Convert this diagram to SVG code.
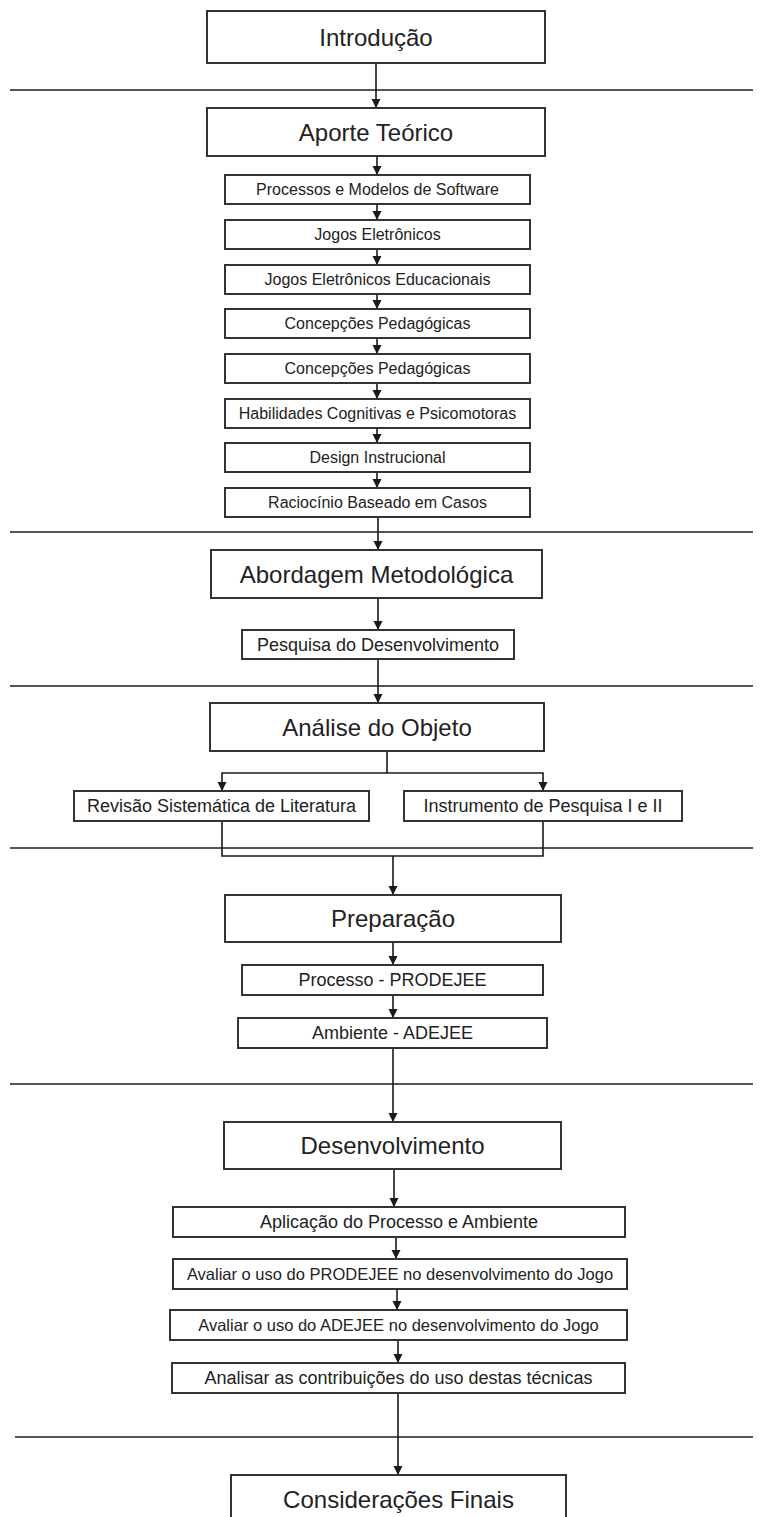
<svg xmlns="http://www.w3.org/2000/svg" width="761" height="1517" viewBox="0 0 761 1517">
  <style>
    .box { fill: #ffffff; stroke: #333333; stroke-width: 2; }
    .sep { stroke: #555555; stroke-width: 2; fill: none; }
    .wire { stroke: #1a1a1a; stroke-width: 1.6; fill: none; }
    .arrow { stroke: #1a1a1a; stroke-width: 1.6; fill: none; marker-end: url(#head); }
    text { font-family: "Liberation Sans", Arial, sans-serif; fill: #222222; text-anchor: middle; dominant-baseline: central; }
    .t24 { font-size: 24px; }
    .t18 { font-size: 18px; }
    .t16 { font-size: 16px; }
    .t165 { font-size: 16.5px; }
  </style>
  <defs>
    <marker id="head" viewBox="0 0 10 10" refX="10" refY="5" markerWidth="9" markerHeight="10" markerUnits="userSpaceOnUse" orient="auto">
      <path d="M0,0 L10,5 L0,10 Z" fill="#1a1a1a"/>
    </marker>
  </defs>

  <rect width="761" height="1517" fill="#ffffff"/>

  <!-- section separators -->
  <g id="separators">
    <line class="sep" x1="10" y1="90" x2="753" y2="90"/>
    <line class="sep" x1="10" y1="532" x2="753" y2="532"/>
    <line class="sep" x1="10" y1="686" x2="753" y2="686"/>
    <line class="sep" x1="10" y1="848" x2="753" y2="848"/>
    <line class="sep" x1="10" y1="1084" x2="753" y2="1084"/>
    <line class="sep" x1="15" y1="1437" x2="753" y2="1437"/>
  </g>

  <!-- connectors -->
  <g id="connectors">
    <line class="arrow" x1="376" y1="63" x2="376" y2="108"/>
    <line class="arrow" x1="377" y1="156" x2="377" y2="175"/>
    <line class="arrow" x1="377" y1="204" x2="377" y2="220"/>
    <line class="arrow" x1="377" y1="249" x2="377" y2="265"/>
    <line class="arrow" x1="377" y1="294" x2="377" y2="309"/>
    <line class="arrow" x1="377" y1="338" x2="377" y2="354"/>
    <line class="arrow" x1="377" y1="383" x2="377" y2="399"/>
    <line class="arrow" x1="377" y1="428" x2="377" y2="443"/>
    <line class="arrow" x1="377" y1="472" x2="377" y2="488"/>
    <line class="arrow" x1="378" y1="517" x2="378" y2="550"/>
    <line class="arrow" x1="378" y1="598" x2="378" y2="630"/>
    <line class="arrow" x1="378" y1="659" x2="378" y2="703"/>
    <!-- split below Análise do Objeto -->
    <polyline class="wire" points="387,751 387,773"/>
    <polyline class="arrow" points="387,773 222,773 222,791"/>
    <polyline class="arrow" points="387,773 543,773 543,791"/>
    <!-- merge into Preparação -->
    <polyline class="wire" points="222,821 222,856 543,856 543,821"/>
    <line class="arrow" x1="393" y1="856" x2="393" y2="895"/>
    <line class="arrow" x1="393" y1="942" x2="393" y2="965"/>
    <line class="arrow" x1="393" y1="995" x2="393" y2="1018"/>
    <line class="arrow" x1="393" y1="1048" x2="393" y2="1122"/>
    <line class="arrow" x1="394" y1="1169" x2="394" y2="1207"/>
    <line class="arrow" x1="396" y1="1237" x2="396" y2="1259"/>
    <line class="arrow" x1="397" y1="1289" x2="397" y2="1310"/>
    <line class="arrow" x1="398" y1="1340" x2="398" y2="1363"/>
    <line class="arrow" x1="398" y1="1393" x2="398" y2="1475"/>
  </g>

  <g id="introducao">
    <rect class="box" x="207" y="11" width="338" height="52"/>
    <text class="t24" x="376" y="37">Introdução</text>
  </g>

  <g id="aporte-teorico">
    <rect class="box" x="207" y="108" width="338" height="48"/>
    <text class="t24" x="376" y="132">Aporte Teórico</text>
  </g>

  <g id="processos-modelos">
    <rect class="box" x="225" y="175" width="305" height="29"/>
    <text class="t16" x="377.5" y="189.5">Processos e Modelos de Software</text>
  </g>
  <g id="jogos-eletronicos">
    <rect class="box" x="225" y="220" width="305" height="29"/>
    <text class="t16" x="377.5" y="234.5">Jogos Eletrônicos</text>
  </g>
  <g id="jogos-educacionais">
    <rect class="box" x="225" y="265" width="305" height="29"/>
    <text class="t16" x="377.5" y="279.5">Jogos Eletrônicos Educacionais</text>
  </g>
  <g id="concepcoes-1">
    <rect class="box" x="225" y="309" width="305" height="29"/>
    <text class="t16" x="377.5" y="323.5">Concepções Pedagógicas</text>
  </g>
  <g id="concepcoes-2">
    <rect class="box" x="225" y="354" width="305" height="29"/>
    <text class="t16" x="377.5" y="368.5">Concepções Pedagógicas</text>
  </g>
  <g id="habilidades">
    <rect class="box" x="225" y="399" width="305" height="29"/>
    <text class="t16" x="377.5" y="413.5">Habilidades Cognitivas e Psicomotoras</text>
  </g>
  <g id="design-instrucional">
    <rect class="box" x="225" y="443" width="305" height="29"/>
    <text class="t16" x="377.5" y="457.5">Design Instrucional</text>
  </g>
  <g id="raciocinio-casos">
    <rect class="box" x="225" y="488" width="305" height="29"/>
    <text class="t16" x="377.5" y="502.5">Raciocínio Baseado em Casos</text>
  </g>

  <g id="abordagem">
    <rect class="box" x="211" y="550" width="331" height="48"/>
    <text class="t24" x="376.5" y="574">Abordagem Metodológica</text>
  </g>
  <g id="pesquisa-desenvolvimento">
    <rect class="box" x="242" y="630" width="272" height="29"/>
    <text class="t18" x="378" y="644.5">Pesquisa do Desenvolvimento</text>
  </g>

  <g id="analise-objeto">
    <rect class="box" x="210" y="703" width="334" height="48"/>
    <text class="t24" x="377" y="727">Análise do Objeto</text>
  </g>
  <g id="revisao-sistematica">
    <rect class="box" x="74" y="791" width="295" height="30"/>
    <text class="t18" x="221.5" y="806">Revisão Sistemática de Literatura</text>
  </g>
  <g id="instrumento-pesquisa">
    <rect class="box" x="404" y="791" width="278" height="30"/>
    <text class="t18" x="543" y="806">Instrumento de Pesquisa I e II</text>
  </g>

  <g id="preparacao">
    <rect class="box" x="225" y="895" width="336" height="47"/>
    <text class="t24" x="393" y="918.5">Preparação</text>
  </g>
  <g id="processo-prodejee">
    <rect class="box" x="242" y="965" width="301" height="30"/>
    <text class="t18" x="392.5" y="980">Processo - PRODEJEE</text>
  </g>
  <g id="ambiente-adejee">
    <rect class="box" x="238" y="1018" width="309" height="30"/>
    <text class="t18" x="392.5" y="1033">Ambiente - ADEJEE</text>
  </g>

  <g id="desenvolvimento">
    <rect class="box" x="224" y="1122" width="337" height="47"/>
    <text class="t24" x="392.5" y="1145.5">Desenvolvimento</text>
  </g>
  <g id="aplicacao">
    <rect class="box" x="173" y="1207" width="452" height="30"/>
    <text class="t18" x="399" y="1222">Aplicação do Processo e Ambiente</text>
  </g>
  <g id="avaliar-prodejee">
    <rect class="box" x="173" y="1259" width="454" height="30"/>
    <text class="t165" x="400" y="1274">Avaliar o uso do PRODEJEE no desenvolvimento do Jogo</text>
  </g>
  <g id="avaliar-adejee">
    <rect class="box" x="170" y="1310" width="457" height="30"/>
    <text class="t165" x="398.5" y="1325">Avaliar o uso do ADEJEE no desenvolvimento do Jogo</text>
  </g>
  <g id="analisar-contribuicoes">
    <rect class="box" x="172" y="1363" width="453" height="30"/>
    <text class="t18" x="398.5" y="1378">Analisar as contribuições do uso destas técnicas</text>
  </g>

  <g id="consideracoes-finais">
    <rect class="box" x="231" y="1475" width="335" height="56"/>
    <text class="t24" x="398.5" y="1499">Considerações Finais</text>
  </g>
</svg>
